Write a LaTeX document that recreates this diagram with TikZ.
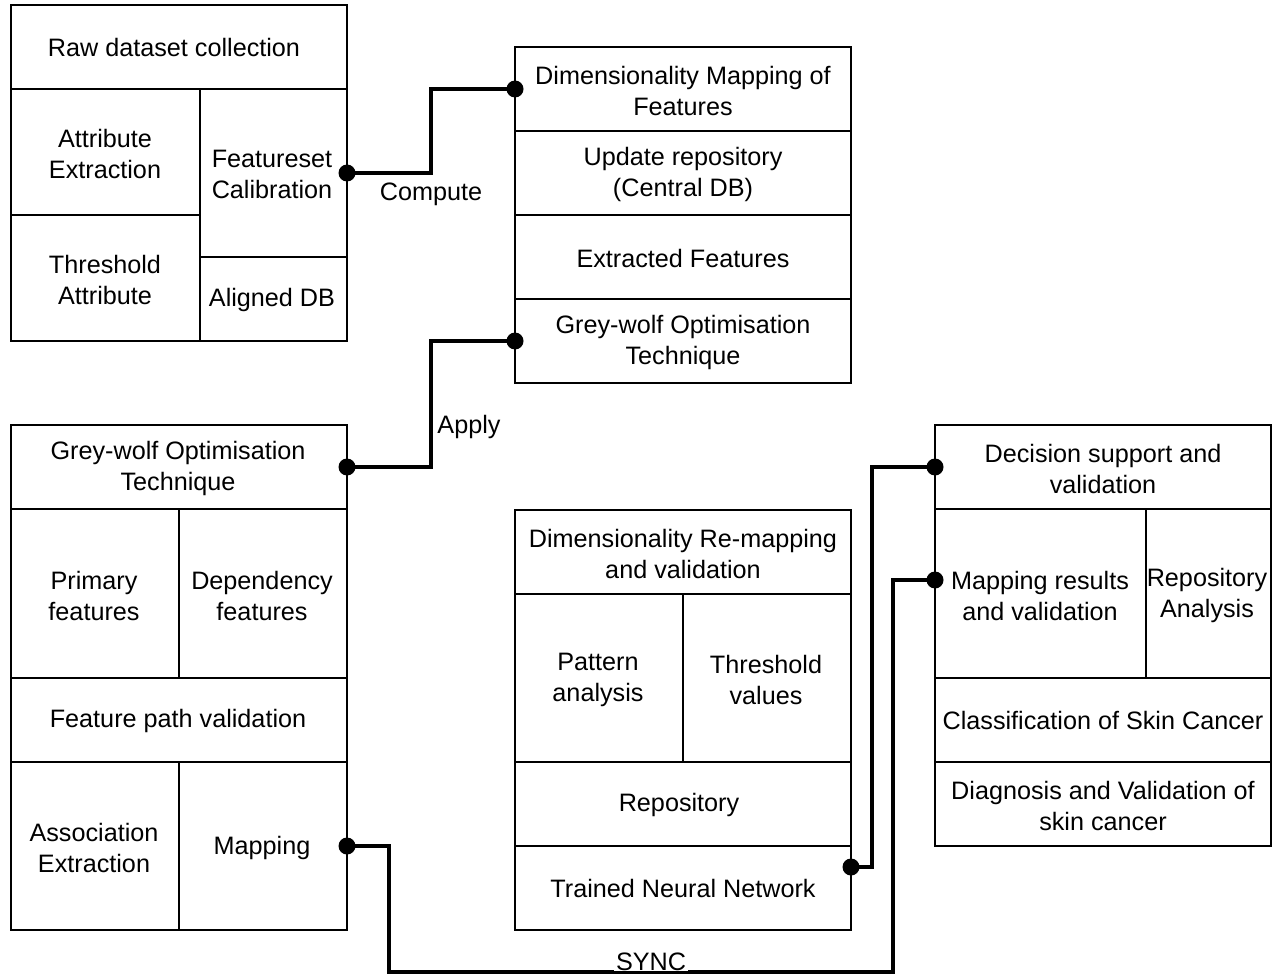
\documentclass[tikz,border=0pt]{standalone}
\usepackage{fontspec}
\setmainfont{Liberation Sans}
\begin{document}
\begin{tikzpicture}[x=1pt,y=-1pt,
  box/.style={draw=black,line width=2pt},
  sep/.style={draw=black,line width=2pt},
  txt/.style={align=center,font=\fontsize{25.2}{31}\selectfont,inner sep=0pt,yshift=-1.5pt},
  conn/.style={draw=black,line width=4pt,line join=miter},
  dot/.style={fill=black,draw=none}]
\useasboundingbox (0,0) rectangle (1279,976);
% Box A
\draw[box] (11,5) rectangle (347,341);
\draw[sep] (11,89) -- (347,89);
\draw[sep] (200,89) -- (200,341);
\draw[sep] (11,215) -- (200,215);
\draw[sep] (200,257) -- (347,257);
\node[txt] (a1) at (174,46) {Raw dataset collection};
\node[txt] (a2) at (105,152) {Attribute\\Extraction};
\node[txt] (a3) at (105,278) {Threshold\\Attribute};
\node[txt] (a4) at (272,173) {Featureset\\Calibration};
\node[txt] (a5) at (272,298) {Aligned DB};
% Box B
\draw[box] (515,47) rectangle (851,383);
\draw[sep] (515,131) -- (851,131);
\draw[sep] (515,215) -- (851,215);
\draw[sep] (515,299) -- (851,299);
\node[txt] (b1) at (683,89) {Dimensionality Mapping of\\Features};
\node[txt] (b2) at (683,173) {Update repository\\(Central DB)};
\node[txt] (b3) at (683,257) {Extracted Features};
\node[txt] (b4) at (683,341) {Grey-wolf Optimisation\\Technique};
% Box C
\draw[box] (11,425) rectangle (347,930);
\draw[sep] (11,509) -- (347,509);
\draw[sep] (11,678) -- (347,678);
\draw[sep] (11,762) -- (347,762);
\draw[sep] (179,509) -- (179,678);
\draw[sep] (179,762) -- (179,930);
\node[txt] (c1) at (178,467) {Grey-wolf Optimisation\\Technique};
\node[txt] (c2) at (94,594) {Primary\\features};
\node[txt] (c3) at (262,594) {Dependency\\features};
\node[txt] (c4) at (178,719) {Feature path validation};
\node[txt] (c5) at (94,846) {Association\\Extraction};
\node[txt] (c6) at (262,846) {Mapping};
% Box D
\draw[box] (515,510) rectangle (851,930);
\draw[sep] (515,594) -- (851,594);
\draw[sep] (515,762) -- (851,762);
\draw[sep] (515,846) -- (851,846);
\draw[sep] (683,594) -- (683,762);
\node[txt] (d1) at (683,552) {Dimensionality Re-mapping\\and validation};
\node[txt] (d2) at (598,678) {Pattern\\analysis};
\node[txt] (d3) at (766,678) {Threshold\\values};
\node[txt] (d4) at (679,803) {Repository};
\node[txt] (d5) at (683,887) {Trained Neural Network};
% Box E
\draw[box] (935,425) rectangle (1271,846);
\draw[sep] (935,509) -- (1271,509);
\draw[sep] (935,678) -- (1271,678);
\draw[sep] (935,762) -- (1271,762);
\draw[sep] (1146,509) -- (1146,678);
\node[txt] (e1) at (1103,467) {Decision support and\\validation};
\node[txt] (e2) at (1040,594) {Mapping results\\and validation};
\node[txt] (e3) at (1207,594) {Repository\\Analysis};
\node[txt] (e4) at (1103,719) {Classification of Skin Cancer};
\node[txt] (e5) at (1103,804) {Diagnosis and Validation of\\skin cancer};
% connector endpoints
\coordinate (pA) at (347,173);
\coordinate (pB) at (515,89);
\coordinate (pC) at (347,467);
\coordinate (pD) at (515,341);
\coordinate (pE) at (851,867);
\coordinate (pF) at (935,467);
\coordinate (pG) at (347,846);
\coordinate (pH) at (935,580);
\coordinate (k1) at (389,972);
\coordinate (k2) at (893,972);
% connectors
\draw[conn] (pA) -- (431,173) |- (pB);
\draw[conn] (pC) -- (431,467) |- (pD);
\draw[conn] (pE) -- (872,867) |- (pF);
\draw[conn] (pG) -| (k1) -- (k2) |- (pH);
\node[txt] (lc) at (431,193) {Compute};
\node[txt] (la) at (469,425) {Apply};
\node[txt,fill=white,inner xsep=2pt,inner ysep=1pt,anchor=base,yshift=1.5pt] (ls) at (651,970) {SYNC};
% dots
\foreach \p in {pA,pB,pC,pD,pE,pF,pG,pH}
  \fill[dot] (\p) circle (8.5);
\end{tikzpicture}
\end{document}
